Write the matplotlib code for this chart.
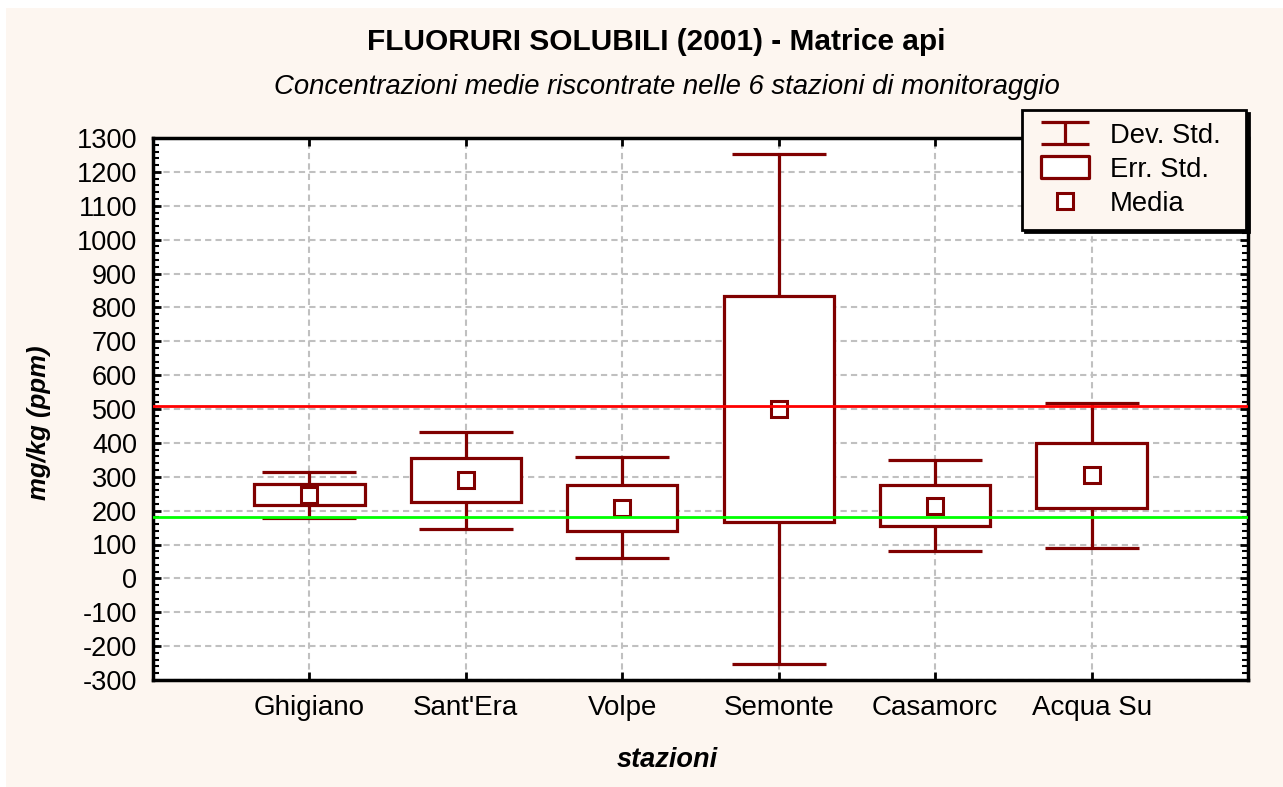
import matplotlib
matplotlib.use('Agg')
import matplotlib.pyplot as plt
from matplotlib.lines import Line2D
from matplotlib.patches import Rectangle
from matplotlib.path import Path
from matplotlib.ticker import MultipleLocator

plt.rcParams['font.family'] = ['Liberation Sans', 'DejaVu Sans']
plt.rcParams['axes.unicode_minus'] = False

# Values (mg/kg)
stazioni = ['Ghigiano', "Sant'Era", 'Volpe', 'Semonte', 'Casamorc', 'Acqua Su']
media = [247, 289, 208, 500, 215, 304]
err_std = [31, 65, 68, 334, 60, 96]
dev_std = [68, 143, 149, 752, 134, 213]
soglia_rossa = 508
soglia_verde = 180

DARKRED = '#800000'
CREAM = '#fdf6f0'
W, H = 1283, 787

fig = plt.figure(figsize=(12.83, 7.87), dpi=100, facecolor='white')
fig.patches.append(Rectangle((6 / W, 0), 1, 1 - 8 / H, transform=fig.transFigure,
                             facecolor=CREAM, edgecolor='none', zorder=-10))
ax = fig.add_axes([153 / W, 1 - 680 / H, (1248 - 153) / W, (680 - 138) / H])
ax.set_facecolor('white')

x = list(range(1, len(stazioni) + 1))

# whiskers: media +/- dev. std.
ax.errorbar(x, media, yerr=dev_std, fmt='none', ecolor=DARKRED,
            elinewidth=2.3, capsize=34, capthick=2.3, zorder=2)
# boxes: media +/- err. std.
ax.bar(x, [2 * e for e in err_std], bottom=[m - e for m, e in zip(media, err_std)],
       width=0.705, color='white', edgecolor=DARKRED, linewidth=2.3, zorder=3)
ax.plot(x, media, ls='none', marker='s', ms=11, mfc='white', mec=DARKRED,
        mew=2.2, zorder=4)

ax.axhline(soglia_rossa, color='#ff0000', lw=2.0, zorder=5)
ax.axhline(soglia_verde, color='#00ff00', lw=2.0, zorder=5)

ax.set_xlim(0, 7)
ax.set_ylim(-300, 1300)
ax.set_xticks(x)
ax.set_xticklabels(stazioni, fontsize=20)
ax.yaxis.set_major_locator(MultipleLocator(100))
ax.yaxis.set_minor_locator(MultipleLocator(20))
ax.tick_params(axis='both', which='major', direction='in', length=6, width=2,
               top=True, right=True, colors='black')
ax.tick_params(axis='y', which='major', labelsize=19.5)
ax.tick_params(axis='y', which='minor', direction='in', length=4, width=1.5,
               left=True, right=True)
ax.tick_params(axis='x', pad=11)
ax.tick_params(axis='y', pad=11.5)
for s in ax.spines.values():
    s.set_linewidth(2.5)

ax.set_axisbelow(True)
ax.grid(True, which='major', color='#c0c0c0', lw=1.5, ls=(0, (3, 2)))

ax.set_xlabel('stazioni', fontsize=19.5, fontweight='bold', fontstyle='italic')
ax.set_ylabel('mg/kg (ppm)', fontsize=18.5, fontweight='bold', fontstyle='italic')
ax.xaxis.set_label_coords((667 - 153) / 1095, -(760 - 680) / 542)
ax.yaxis.set_label_coords(-(153 - 39) / 1095, (680 - 423) / 542)
ax.xaxis.label.set_va('center')
ax.yaxis.label.set_va('center')

fig.text(656 / W, 1 - 42 / H, 'FLUORURI SOLUBILI (2001) - Matrice api', ha='center',
         va='center', fontsize=21.5, fontweight='bold')
fig.text(667 / W, 1 - 87 / H, 'Concentrazioni medie riscontrate nelle 6 stazioni di monitoraggio',
         ha='center', va='center', fontsize=19.8, fontstyle='italic')

# legend symbols
whisker_path = Path([(-1, 0.45), (1, 0.45), (0, 0.45), (0, -0.45), (-1, -0.45), (1, -0.45)],
                    [Path.MOVETO, Path.LINETO, Path.MOVETO, Path.LINETO, Path.MOVETO, Path.LINETO])
box_path = Path([(-1, -0.45), (1, -0.45), (1, 0.45), (-1, 0.45), (-1, -0.45)],
                [Path.MOVETO, Path.LINETO, Path.LINETO, Path.LINETO, Path.CLOSEPOLY])
handles = [
    Line2D([], [], ls='none', marker=whisker_path, ms=34, mec=DARKRED, mew=2.3, mfc='none'),
    Line2D([], [], ls='none', marker=box_path, ms=34, mec=DARKRED, mew=2.3, mfc='white'),
    Line2D([], [], ls='none', marker='s', ms=11, mec=DARKRED, mew=2.2, mfc='white'),
]
leg = fig.legend(handles, ['Dev. Std.', 'Err. Std.', 'Media'], loc='upper left',
                 bbox_to_anchor=(1022 / W, 1 - 230 / H, 224 / W, 120 / H), mode='expand',
                 borderaxespad=0, fontsize=19.7, frameon=True, fancybox=False,
                 handlelength=2.2, handletextpad=0.55, labelspacing=0.3, borderpad=0.46,
                 shadow={'facecolor': 'black', 'edgecolor': 'black', 'alpha': 1})
leg.get_frame().set_facecolor(CREAM)
leg.get_frame().set_edgecolor('black')
leg.get_frame().set_linewidth(2)
leg.get_frame().set_alpha(1)

fig.savefig('out.png', dpi=100, facecolor=fig.get_facecolor())
